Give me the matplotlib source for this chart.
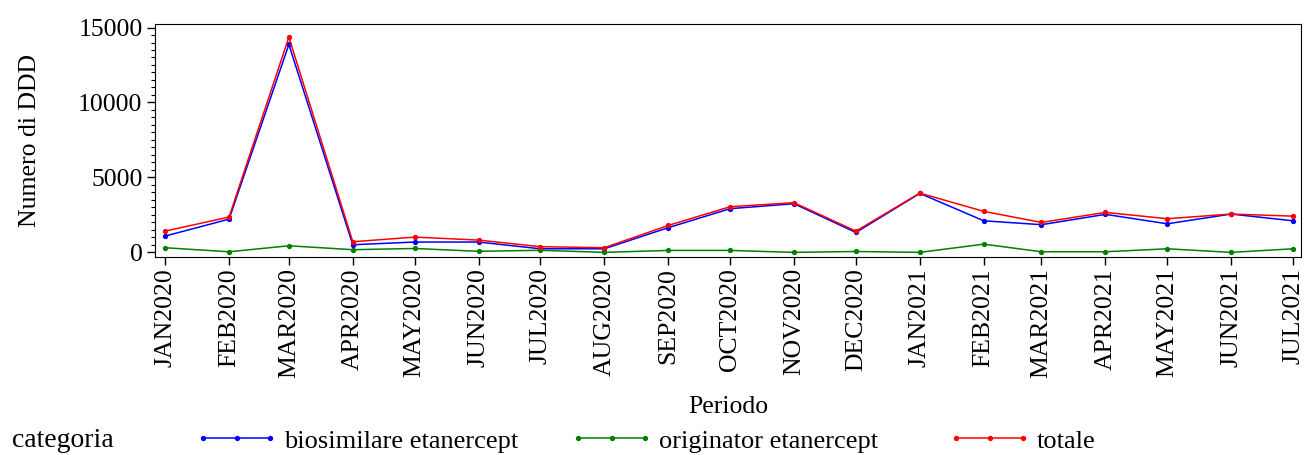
import numpy as np
import pandas as pd
import matplotlib
matplotlib.use('Agg')
import matplotlib.pyplot as plt
from matplotlib.ticker import MultipleLocator
from matplotlib.lines import Line2D
from matplotlib.legend_handler import HandlerLine2D

plt.rcParams['font.family'] = ['Liberation Serif', 'DejaVu Serif']

# periodi (mensili)
mesi = ['JAN2020', 'FEB2020', 'MAR2020', 'APR2020', 'MAY2020', 'JUN2020',
        'JUL2020', 'AUG2020', 'SEP2020', 'OCT2020', 'NOV2020', 'DEC2020',
        'JAN2021', 'FEB2021', 'MAR2021', 'APR2021', 'MAY2021', 'JUN2021',
        'JUL2021']

biosimilare = [1070, 2200, 13870, 490, 670, 670, 220, 220, 1630, 2900,
               3230, 1310, 3920, 2090, 1830, 2520, 1890, 2540, 2090]
originator = [290, 20, 420, 160, 240, 50, 120, -20, 110, 110,
              -20, 40, -20, 530, 20, 20, 220, -20, 220]
totale = [1400, 2340, 14360, 690, 1000, 800, 360, 290, 1780, 3030,
          3300, 1400, 3940, 2720, 1980, 2650, 2230, 2540, 2400]

serie = [('biosimilare etanercept', biosimilare, '#0000ff'),
         ('originator etanercept', originator, '#008000'),
         ('totale', totale, '#ff0000')]

date = pd.to_datetime(mesi, format='%b%Y')

fs = 18.5
fig = plt.figure(figsize=(13.05, 4.55), dpi=100)
ax = fig.add_axes([0.1188, 0.435, 0.8782, 0.512])

handles = []
for nome, val, col in serie:
    h, = ax.plot(date, val, color=col, lw=1.1, marker='o', ms=2.8,
                 label=nome)
    handles.append(h)

ax.set_xlim(date[0] - pd.Timedelta(days=4.9), date[-1] + pd.Timedelta(days=3.9))
ax.set_ylim(-334, 15230)

ax.set_xticks(date)
ax.set_xticklabels(mesi, rotation=90, fontsize=fs)
ax.yaxis.set_major_locator(MultipleLocator(5000))
ax.yaxis.set_minor_locator(MultipleLocator(500))
ax.tick_params(axis='y', which='major', length=6, width=1, labelsize=fs, pad=3)
ax.tick_params(axis='y', which='minor', length=3, width=0.8)
ax.tick_params(axis='x', which='major', length=6, width=1, pad=2)
ax.tick_params(axis='x', which='minor', length=0)

ax.set_ylabel('Numero di DDD', fontsize=fs, labelpad=27)
ax.set_xlabel('Periodo', fontsize=fs, labelpad=13)

# legenda: "categoria" + tre voci posizionate come nel riferimento
fig.text(12 / 1305, 0.031, 'categoria', fontsize=20, va='center', ha='left')
x_voci = [203, 578, 956]
for h, x0 in zip(handles, x_voci):
    fig.legend(handles=[h], loc='center left',
               bbox_to_anchor=(x0 / 1305, 0.031), frameon=False,
               fontsize=19, numpoints=3, handlelength=2.55,
               handletextpad=0.52, borderaxespad=0, borderpad=0,
               handler_map={Line2D: HandlerLine2D(marker_pad=0)})

fig.savefig('out.png', dpi=100)
